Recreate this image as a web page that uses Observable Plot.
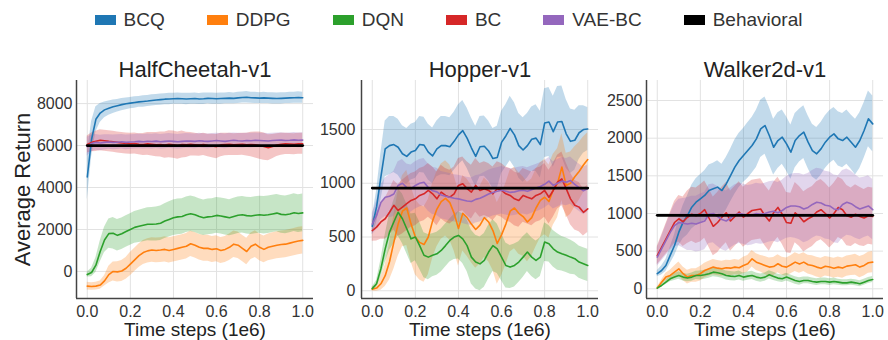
<!DOCTYPE html>
<html><head><meta charset="utf-8">
<script src="https://cdn.jsdelivr.net/npm/d3@7"></script>
<script src="https://cdn.jsdelivr.net/npm/@observablehq/plot@0.6"></script>
<style>
body{margin:0;background:#fff;}
#fig{position:relative;width:888px;height:340px;font-family:"Liberation Sans",Arial,sans-serif;overflow:hidden;}
#legend{position:absolute;left:0;top:0;width:888px;height:40px;display:flex;justify-content:center;align-items:center;gap:42px;padding-left:9px;padding-bottom:1px;box-sizing:border-box;font-size:19px;color:#333;}
.item{display:flex;align-items:center;}
.sw{width:21px;height:10px;margin-right:8px;}
.panel{position:absolute;top:40px;}
</style></head><body><div id="fig"><div id="legend"></div></div>
<script>
// ---------- data ----------
const seriesNames = ["BCQ", "DDPG", "DQN", "BC", "VAE-BC"];
const seriesColors = ["#1f77b4", "#ff7f0e", "#2ca02c", "#d62728", "#9467bd"];
const behavioralName = "Behavioral";
const behavioralColor = "#000000";
const xLabel = "Time steps (1e6)";
const yLabel = "Average Return";
const xTicks = [0, 0.2, 0.4, 0.6, 0.8, 1.0];

const xs = [0,0.02,0.04,0.06,0.08,0.1,0.12,0.14,0.16,0.18,0.2,0.22,0.24,0.26,0.28,0.3,0.32,0.34,0.36,0.38,0.4,0.42,0.44,0.46,0.48,0.5,0.52,0.54,0.56,0.58,0.6,0.62,0.64,0.66,0.68,0.7,0.72,0.74,0.76,0.78,0.8,0.82,0.84,0.86,0.88,0.9,0.92,0.94,0.96,0.98,1];

// HalfCheetah-v1
const hcTitle = "HalfCheetah-v1";
const hcYTicks = [0, 2000, 4000, 6000, 8000];
const hcBehavioral = 6000;
const hcBCQ = [4500,6300,7250,7550,7700,7780,7850,7900,7950,7990,8020,8050,8080,8100,8120,8150,8170,8190,8210,8220,8230,8240,8230,8220,8230,8240,8220,8230,8250,8240,8230,8240,8250,8260,8250,8270,8290,8300,8280,8270,8260,8270,8260,8250,8240,8250,8260,8270,8280,8290,8280];
const hcBCQsd = [1100,850,600,450,380,340,320,300,290,280,270,270,260,270,260,270,260,270,260,270,260,270,260,270,260,270,260,270,260,270,260,270,260,270,260,270,260,270,260,270,260,270,260,270,260,270,260,270,260,270,260];
const hcDDPG = [-700,-720,-700,-650,-450,-150,0,-20,20,150,350,550,750,900,980,1020,1000,1020,1050,1000,1050,1100,1150,1200,1320,1250,1150,1100,1100,1050,1080,1000,1050,1150,1300,1250,1100,950,1200,1300,1150,1050,1150,1200,1250,1280,1300,1350,1400,1450,1480];
const hcDDPGsd = [180,180,180,200,250,400,450,480,500,520,550,550,560,570,580,580,590,590,600,600,600,600,600,610,610,610,610,620,620,620,620,620,620,630,630,630,630,630,630,640,640,640,640,640,640,650,650,650,650,650,650];
const hcDQN = [-150,-50,300,950,1500,1800,1820,1720,1800,1900,2000,2100,2150,2200,2250,2250,2260,2300,2400,2480,2560,2600,2620,2700,2750,2700,2620,2560,2600,2620,2670,2640,2600,2560,2620,2680,2700,2660,2640,2680,2700,2680,2700,2740,2780,2720,2700,2740,2800,2760,2790];
const hcDQNsd = [120,200,350,500,600,700,750,750,750,750,750,760,770,780,790,800,810,820,830,840,850,850,850,850,850,850,850,850,850,850,850,860,860,860,870,870,870,880,880,880,880,890,890,890,890,900,900,900,900,900,900];
const hcBC = [6050,6150,6200,6250,6230,6200,6180,6150,6120,6100,6080,6100,6060,6050,6080,6060,6040,6050,6020,6060,6040,6000,6050,6030,6060,6040,6020,6050,6000,5980,5950,6030,6050,6060,6040,6050,6060,6040,6050,6030,6000,5950,5900,5950,6020,6060,6080,6070,6060,6080,6080];
const hcBCsd = [400,450,480,500,500,500,500,500,500,500,500,500,500,520,540,560,580,600,620,640,650,650,640,600,560,540,530,530,540,560,580,560,540,530,520,520,520,540,580,620,650,650,620,580,540,520,510,500,500,500,500];
const hcVAE = [5950,6100,6150,6120,6150,6170,6150,6160,6180,6150,6170,6180,6200,6180,6200,6190,6210,6180,6200,6220,6200,6180,6200,6220,6210,6200,6230,6210,6200,6220,6240,6220,6200,6230,6250,6230,6220,6240,6230,6250,6240,6230,6220,6240,6250,6260,6240,6250,6270,6250,6260];
const hcVAEsd = [450,400,380,370,360,350,350,350,350,350,350,350,350,350,350,350,350,350,350,350,350,350,350,350,350,350,350,350,350,350,350,350,350,350,350,350,350,350,350,350,350,350,350,350,350,350,350,350,350,350,350];

// Hopper-v1
const hpTitle = "Hopper-v1";
const hpYTicks = [0, 500, 1000, 1500];
const hpBehavioral = 955;
const hpBCQ = [600,780,1060,1320,1350,1360,1335,1275,1250,1290,1305,1360,1355,1290,1255,1320,1350,1350,1340,1390,1450,1490,1420,1330,1250,1340,1345,1300,1230,1240,1380,1440,1510,1450,1350,1310,1350,1410,1420,1360,1560,1570,1480,1570,1575,1460,1390,1400,1470,1500,1505];
const hpBCQsd = [80,150,220,260,270,260,260,260,260,260,260,260,260,260,260,260,270,270,270,270,280,280,280,280,280,280,280,280,280,290,290,290,300,300,300,300,300,300,310,310,320,320,330,330,330,320,300,280,250,220,200];
const hpDDPG = [15,25,65,140,270,450,620,740,770,620,500,450,430,500,650,760,830,860,820,720,580,720,680,620,570,610,680,640,560,440,520,620,740,770,720,690,640,680,770,840,870,830,940,1000,1150,980,1000,1060,1110,1170,1220];
const hpDDPGsd = [20,30,60,100,170,250,300,330,350,350,350,350,350,350,350,350,350,350,350,350,350,350,360,360,360,360,370,370,370,380,380,380,380,380,380,370,370,360,360,350,350,340,330,320,310,300,290,280,270,260,250];
const hpDQN = [20,65,205,390,545,640,730,670,577,483,500,420,330,313,330,344,375,420,468,500,515,483,420,313,267,250,282,360,420,390,313,235,220,235,267,313,360,313,282,313,453,437,390,360,344,330,313,298,267,251,236];
const hpDQNsd = [15,30,80,130,170,200,220,230,230,230,220,220,210,210,200,200,200,200,200,210,220,230,240,250,250,250,250,250,240,230,220,210,200,200,190,190,180,180,180,180,180,170,170,170,160,160,160,150,150,150,150];
const hpBC = [560,592,640,670,730,795,747,778,810,840,855,887,902,933,902,855,918,887,870,902,980,995,950,918,980,933,950,933,902,950,933,902,887,855,840,887,870,855,887,902,933,870,933,1010,1040,950,855,795,778,730,762];
const hpBCsd = [100,130,160,190,210,230,240,250,250,250,250,250,250,250,250,250,250,250,250,250,250,250,250,250,250,250,250,250,250,250,250,250,250,250,250,250,250,250,250,250,250,250,250,250,250,240,240,230,230,220,220];
const hpVAE = [620,700,820,870,880,900,980,1000,960,950,980,1000,1010,960,930,920,890,880,870,860,855,845,835,830,850,860,880,900,915,925,935,925,915,920,930,935,925,940,955,970,990,1020,980,1000,1020,1010,1025,990,960,930,950];
const hpVAEsd = [100,130,160,180,200,210,220,220,220,220,220,220,220,220,220,220,220,220,220,220,220,220,220,220,220,220,220,220,220,220,220,220,220,220,220,220,220,220,220,220,220,220,220,220,220,220,220,220,220,220,220];

// Walker2d-v1
const wkTitle = "Walker2d-v1";
const wkYTicks = [0, 500, 1000, 1500, 2000, 2500];
const wkBehavioral = 975;
const wkBCQ = [200,243,310,443,575,752,885,973,1084,1150,1195,1239,1305,1327,1350,1305,1394,1504,1615,1704,1770,1836,1903,1991,2124,2168,2035,1880,1969,2013,1925,1814,1969,2035,2080,1947,1836,1792,1858,1947,2013,2057,1991,1969,2013,1947,1880,1969,2102,2257,2190];
const wkBCQsd = [40,60,80,110,140,180,220,260,290,310,320,330,340,340,350,350,350,350,360,360,360,370,370,380,380,380,380,370,370,360,360,360,360,350,350,350,350,350,350,350,350,350,360,360,360,360,370,370,370,370,370];
const wkDDPG = [9,88,155,177,221,265,200,155,177,177,200,243,265,288,274,265,280,274,288,280,310,332,398,354,332,310,288,295,332,300,288,320,354,330,354,320,310,288,274,300,290,274,288,275,301,310,320,288,310,345,354];
const wkDDPGsd = [10,30,50,70,80,90,90,90,90,90,95,95,100,100,100,100,100,100,100,100,110,110,110,110,110,120,120,120,120,120,120,120,125,125,125,125,130,130,130,130,130,130,135,135,135,135,140,140,140,140,140];
const wkDQN = [9,44,88,133,155,177,155,142,155,177,177,186,200,221,212,200,177,168,164,177,155,168,177,155,142,155,186,164,142,133,155,133,111,97,111,111,97,88,97,97,88,97,88,79,79,88,79,66,88,111,124];
const wkDQNsd = [10,20,30,40,45,50,50,50,55,55,60,60,60,60,60,60,60,60,60,60,55,55,55,55,55,55,55,55,50,50,50,50,50,50,45,45,45,45,45,45,45,45,40,40,40,40,40,40,40,40,40];
const wkBC = [440,550,660,770,880,930,890,950,990,970,1000,1050,940,830,880,950,1010,900,960,1020,950,1000,1040,1050,1060,970,900,1010,1080,990,880,870,1010,960,890,930,960,1020,1050,1000,940,1000,1080,1050,970,950,990,960,940,970,960];
const wkBCsd = [120,160,200,240,280,310,330,350,360,370,380,380,390,390,400,400,400,400,400,400,400,400,400,400,400,400,400,400,400,400,400,400,400,400,400,400,400,400,400,400,400,400,400,400,400,390,390,390,380,380,380];
const wkVAE = [420,530,640,750,840,880,870,860,870,860,880,900,990,1000,960,920,900,940,980,1000,990,970,980,1000,990,1000,1020,1030,1010,1040,1080,1100,1100,1090,1060,1080,1120,1150,1140,1110,1100,1060,1050,1120,1150,1130,1090,1060,1080,1100,1050];
const wkVAEsd = [120,160,200,240,280,310,330,350,360,370,380,380,390,390,400,400,400,400,400,400,400,400,400,400,400,400,400,400,400,400,410,420,430,440,450,450,450,450,450,450,450,450,450,450,440,430,420,410,400,400,400];

// ---------- legend ----------
const legend = document.getElementById("legend");
[...seriesNames.map((n, i) => [n, seriesColors[i]]), [behavioralName, behavioralColor]].forEach(([n, c]) => {
  const it = document.createElement("div"); it.className = "item";
  const sw = document.createElement("div"); sw.className = "sw"; sw.style.background = c;
  const tx = document.createElement("span"); tx.textContent = n;
  it.append(sw, tx); legend.append(it);
});

// ---------- panels ----------
const xDomain = [-0.05, 1.05];
function makePanel(cfg) {
  const rows = [];
  cfg.means.forEach((m, k) => {
    const sd = cfg.sds[k];
    xs.forEach((x, i) => rows.push({x, s: seriesNames[k], y: m[i], lo: m[i] - sd[i], hi: m[i] + sd[i]}));
  });
  const beh = [{x: xs[0], y: cfg.behavioral}, {x: xs[xs.length - 1], y: cfg.behavioral}];
  const marks = [
    Plot.gridX({ticks: xTicks, stroke: "#e2e2e2", strokeOpacity: 1, strokeWidth: 1}),
    Plot.gridY({ticks: cfg.yTicks, stroke: "#e2e2e2", strokeOpacity: 1, strokeWidth: 1}),
    Plot.areaY(rows, {x: "x", y1: "lo", y2: "hi", z: "s", fill: "s", fillOpacity: 0.27}),
    Plot.lineY(rows, {x: "x", y: "y", z: "s", stroke: "s", strokeWidth: 1.6}),
    Plot.lineY(beh, {x: "x", y: "y", stroke: behavioralColor, strokeWidth: 2.8}),
    Plot.ruleX([xDomain[0]], {stroke: "#444", strokeWidth: 1.5}),
    Plot.ruleY([cfg.yDomain[0]], {stroke: "#444", strokeWidth: 1.5}),
    Plot.axisX({ticks: xTicks, tickFormat: d3.format(".1f"), tickSize: 0, tickPadding: 7, fontSize: 16, label: null}),
    Plot.axisY({ticks: cfg.yTicks, tickFormat: d3.format("d"), tickSize: 0, tickPadding: cfg.pad, fontSize: 16, label: null}),
    Plot.text([cfg.title], {text: d => d, frameAnchor: "top", lineAnchor: "bottom", dy: -4, fontSize: 22, fill: "#222"}),
    Plot.text([xLabel], {text: d => d, frameAnchor: "bottom", lineAnchor: "bottom", dy: 37, fontSize: 19, fill: "#222"})
  ];
  if (cfg.ylabel) marks.push(Plot.text([cfg.ylabel], {text: d => d, frameAnchor: "left", rotate: -90, lineAnchor: "bottom", textAnchor: "middle", dx: -47, fontSize: 22, fill: "#222"}));
  const svg = Plot.plot({
    width: cfg.width, height: 300,
    marginTop: 40, marginBottom: 42, marginLeft: cfg.ml, marginRight: cfg.mr,
    x: {domain: xDomain},
    y: {domain: cfg.yDomain},
    color: {domain: seriesNames, range: seriesColors},
    style: {background: "transparent", overflow: "visible", fontFamily: "'Liberation Sans', Arial, sans-serif", color: "#333"},
    marks
  });
  svg.classList.add("panel");
  svg.style.left = cfg.left + "px";
  svg.style.position = "absolute";
  svg.style.top = "40px";
  document.getElementById("fig").append(svg);
}

makePanel({title: hcTitle, left: 0, width: 320, ml: 76, mr: 7, pad: 4, yDomain: [-1290, 9100], yTicks: hcYTicks, behavioral: hcBehavioral,
  means: [hcBCQ, hcDDPG, hcDQN, hcBC, hcVAE], sds: [hcBCQsd, hcDDPGsd, hcDQNsd, hcBCsd, hcVAEsd], ylabel: yLabel});
makePanel({title: hpTitle, left: 320, width: 285, ml: 41, mr: 7, pad: 6, yDomain: [-72, 1956], yTicks: hpYTicks, behavioral: hpBehavioral,
  means: [hpBCQ, hpDDPG, hpDQN, hpBC, hpVAE], sds: [hpBCQsd, hpDDPGsd, hpDQNsd, hpBCsd, hpVAEsd]});
makePanel({title: wkTitle, left: 605, width: 283, ml: 41, mr: 5, pad: 4, yDomain: [-129, 2766], yTicks: wkYTicks, behavioral: wkBehavioral,
  means: [wkBCQ, wkDDPG, wkDQN, wkBC, wkVAE], sds: [wkBCQsd, wkDDPGsd, wkDQNsd, wkBCsd, wkVAEsd]});
</script></body></html>
